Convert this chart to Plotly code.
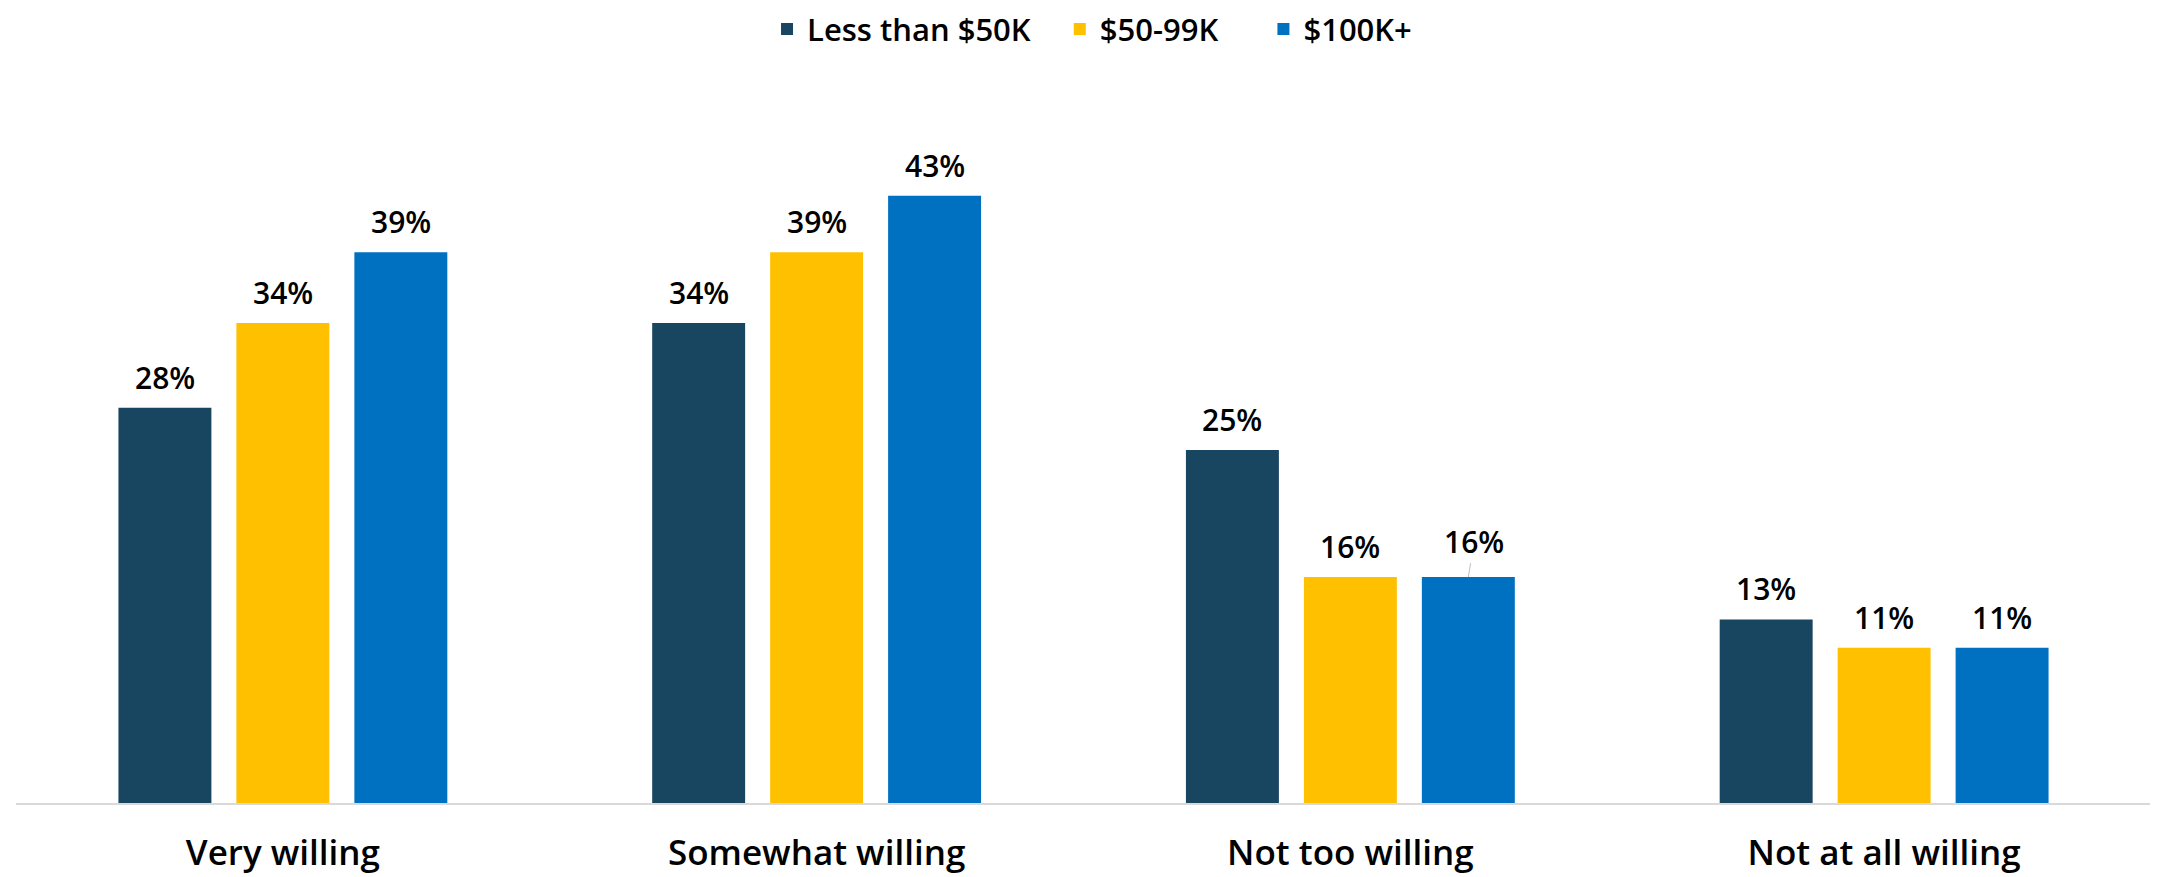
import plotly.graph_objects as go

# datos
categorias = ['Very willing', 'Somewhat willing', 'Not too willing', 'Not at all willing']
series = ['Less than $50K', '$50-99K', '$100K+']
menos_50k = [28, 34, 25, 13]
de_50_99k = [34, 39, 16, 11]
mas_100k = [39, 43, 16, 11]
valores = [menos_50k, de_50_99k, mas_100k]

colores = ['#184560', '#FFC000', '#0070C0']
fuente = 'Open Sans'

bargap = 0.337
bargroupgap = 0.212

# espacios al final de cada nombre para separar los elementos de la leyenda
relleno = [3, 5, 0]

fig = go.Figure()
for nombre, vals, color, n in zip(series, valores, colores, relleno):
    fig.add_trace(go.Bar(
        x=categorias, y=vals, name=nombre + '\u00a0' * n,
        marker=dict(color=color, line=dict(width=0)),
        hovertemplate='%{x}<br>' + nombre + ': %{y}%<extra></extra>'
    ))

# etiquetas de valor (como anotaciones para separar del borde de la barra)
ancho = (1 - bargap) / len(series)
anotaciones = []
for j, vals in enumerate(valores):
    desplaz = (j - 1) * ancho
    for i, v in enumerate(vals):
        a = dict(x=i + desplaz, y=v, xref='x', yref='y', text=f'{v}%',
                 font=dict(family=fuente, size=30, color='black', weight=600))
        if j == 2 and i == 2:
            # etiqueta movida a mano en el original, con linea guia
            a.update(showarrow=True, ax=6, ay=-36, arrowhead=0,
                     arrowwidth=1, arrowcolor='#bfbfbf', standoff=0)
        else:
            a.update(showarrow=False, yanchor='bottom', yshift=8)
        anotaciones.append(a)

fig.update_layout(
    width=2150, height=869,
    margin=dict(l=8, r=7, t=89, b=74, autoexpand=False),
    paper_bgcolor='white', plot_bgcolor='white',
    barmode='group', bargap=bargap, bargroupgap=bargroupgap,
    font=dict(family=fuente, color='black'),
    showlegend=True,
    legend=dict(orientation='h', xref='container', x=0.5042, xanchor='center',
                yref='paper', y=1.134, yanchor='top',
                font=dict(family=fuente, size=31, color='black', weight=600),
                itemwidth=30, tracegroupgap=0),
    annotations=anotaciones,
)
fig.update_xaxes(showline=True, linecolor='#d9d9d9', linewidth=2,
                 showgrid=False, ticks='', ticklabelstandoff=18, automargin=False,
                 tickfont=dict(family=fuente, size=35, color='black', weight=600))
fig.update_yaxes(range=[0, 50], visible=False, showgrid=False, zeroline=False,
                 automargin=False)

fig.write_html('out.html')
